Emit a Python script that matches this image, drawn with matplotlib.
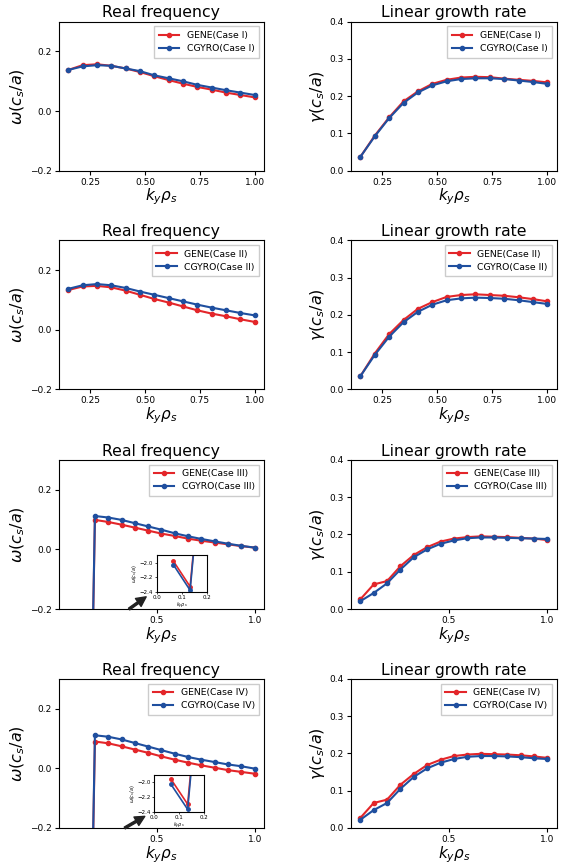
import numpy as np
import matplotlib
matplotlib.use("Agg")
import matplotlib.pyplot as plt

# wavenumbers
ky_a = np.linspace(0.15, 1.0, 14)   # cases I and II
ky_b = np.linspace(0.05, 1.0, 15)   # cases III and IV
ky_inset = [1/15, 2/15, 3/15]

# case I
freq_gene_1 = [0.138, 0.154, 0.157, 0.152, 0.143, 0.131, 0.117, 0.104, 0.092, 0.081, 0.072, 0.062, 0.054, 0.046]
freq_cgyro_1 = [0.138, 0.150, 0.154, 0.152, 0.143, 0.134, 0.120, 0.110, 0.100, 0.088, 0.079, 0.070, 0.062, 0.054]
grow_gene_1 = [0.037, 0.094, 0.143, 0.186, 0.213, 0.233, 0.244, 0.250, 0.252, 0.251, 0.247, 0.244, 0.241, 0.237]
grow_cgyro_1 = [0.037, 0.092, 0.141, 0.182, 0.210, 0.229, 0.240, 0.246, 0.248, 0.248, 0.246, 0.242, 0.238, 0.233]

# case II
freq_gene_2 = [0.133, 0.145, 0.147, 0.142, 0.131, 0.117, 0.103, 0.091, 0.078, 0.065, 0.054, 0.045, 0.035, 0.026]
freq_cgyro_2 = [0.137, 0.149, 0.153, 0.149, 0.140, 0.128, 0.117, 0.106, 0.095, 0.084, 0.074, 0.065, 0.056, 0.048]
grow_gene_2 = [0.035, 0.096, 0.148, 0.186, 0.216, 0.234, 0.248, 0.253, 0.255, 0.253, 0.251, 0.247, 0.242, 0.236]
grow_cgyro_2 = [0.035, 0.092, 0.141, 0.180, 0.208, 0.227, 0.239, 0.244, 0.246, 0.245, 0.243, 0.239, 0.234, 0.229]

# case III
freq_gene_3 = [-1.98, -2.33, 0.099, 0.092, 0.083, 0.073, 0.063, 0.053, 0.045, 0.036, 0.029, 0.023, 0.017, 0.011, 0.006]
freq_cgyro_3 = [-2.03, -2.38, 0.112, 0.107, 0.099, 0.088, 0.077, 0.066, 0.054, 0.044, 0.035, 0.027, 0.019, 0.012, 0.006]
grow_gene_3 = [0.026, 0.066, 0.075, 0.115, 0.145, 0.166, 0.181, 0.189, 0.193, 0.195, 0.194, 0.193, 0.191, 0.189, 0.185]
grow_cgyro_3 = [0.021, 0.043, 0.069, 0.106, 0.139, 0.160, 0.175, 0.184, 0.190, 0.192, 0.192, 0.191, 0.190, 0.189, 0.188]

# case IV
freq_gene_4 = [-1.96, -2.30, 0.090, 0.084, 0.074, 0.063, 0.052, 0.040, 0.029, 0.019, 0.010, 0.002, -0.006, -0.012, -0.018]
freq_cgyro_4 = [-2.03, -2.37, 0.111, 0.106, 0.097, 0.085, 0.073, 0.061, 0.049, 0.038, 0.029, 0.021, 0.013, 0.007, -0.001]
grow_gene_4 = [0.027, 0.067, 0.076, 0.116, 0.145, 0.169, 0.183, 0.193, 0.197, 0.199, 0.198, 0.197, 0.195, 0.192, 0.188]
grow_cgyro_4 = [0.022, 0.048, 0.067, 0.105, 0.137, 0.160, 0.175, 0.185, 0.191, 0.193, 0.193, 0.192, 0.190, 0.187, 0.185]

case_names = ["I", "II", "III", "IV"]

red = "#e3262a"
blue = "#1f4f9f"

fig = plt.figure(figsize=(5.67, 8.63), dpi=100)

rows = [
    (ky_a, freq_gene_1, freq_cgyro_1, grow_gene_1, grow_cgyro_1),
    (ky_a, freq_gene_2, freq_cgyro_2, grow_gene_2, grow_cgyro_2),
    (ky_b, freq_gene_3, freq_cgyro_3, grow_gene_3, grow_cgyro_3),
    (ky_b, freq_gene_4, freq_cgyro_4, grow_gene_4, grow_cgyro_4),
]

# bottom edge of each row of axes (figure fraction)
bottoms = [0.8022, 0.5489, 0.2943, 0.0406]
h = 0.1727

# inset boxes and arrows for cases III and IV (axes fraction / data coords)
inset_box = {2: [0.477, 0.116, 0.244, 0.244], 3: [0.465, 0.110, 0.244, 0.247]}
arrows = {2: ((0.36, -0.2), (0.447, -0.159)), 3: ((0.338, -0.2), (0.44, -0.161))}

def style(ax):
    ax.tick_params(labelsize=6.5, width=0.8, length=3, pad=2)
    for s in ax.spines.values():
        s.set_linewidth(0.8)

for i, (ky, fg, fc, gg, gc) in enumerate(rows):
    name = case_names[i]

    # real frequency
    ax = fig.add_axes([0.104, bottoms[i], 0.3616, h])
    ax.plot(ky, fg, "-o", color=red, lw=1.5, ms=3, label="GENE(Case " + name + ")")
    ax.plot(ky, fc, "-o", color=blue, lw=1.5, ms=3, label="CGYRO(Case " + name + ")")
    ax.set_ylim(-0.2, 0.3)
    ax.set_yticks([-0.2, 0.0, 0.2])
    if i < 2:
        ax.set_xticks([0.25, 0.5, 0.75, 1.0])
    else:
        ax.set_xticks([0.5, 1.0])
    ax.set_title("Real frequency", fontsize=11.3, pad=3)
    ax.set_xlabel(r"$k_y\rho_s$", fontsize=11, labelpad=0)
    ax.set_ylabel(r"$\omega(c_s/a)$", fontsize=11.5, labelpad=2)
    ax.legend(loc="upper right", fontsize=6.7, handlelength=2.2, borderpad=0.5,
              labelspacing=0.45, fancybox=False, framealpha=1, edgecolor="#cccccc")
    style(ax)

    if i in inset_box:
        ins = ax.inset_axes(inset_box[i])
        ins.plot(ky_inset, fg[:3], "-o", color=red, lw=1.2, ms=2.5)
        ins.plot(ky_inset, fc[:3], "-o", color=blue, lw=1.2, ms=2.5)
        ins.set_xlim(0, 0.2)
        ins.set_ylim(-2.4, -1.9)
        ins.set_xticks([0.0, 0.1, 0.2])
        ins.set_yticks([-2.4, -2.2, -2.0])
        ins.tick_params(labelsize=4, length=1.5, width=0.5, pad=1)
        ins.set_xlabel(r"$k_y\rho_s$", fontsize=3.5, labelpad=0.5)
        ins.set_ylabel(r"$\omega(c_s/a)$", fontsize=3.5, labelpad=0.5)
        for s in ins.spines.values():
            s.set_linewidth(0.8)
        tail, head = arrows[i]
        ax.annotate("", xy=head, xytext=tail,
                    arrowprops=dict(facecolor="#222222", edgecolor="#222222",
                                    width=1.5, headwidth=7, headlength=7),
                    annotation_clip=False)

    # growth rate
    ax2 = fig.add_axes([0.619, bottoms[i], 0.363, h])
    ax2.plot(ky, gg, "-o", color=red, lw=1.5, ms=3, label="GENE(Case " + name + ")")
    ax2.plot(ky, gc, "-o", color=blue, lw=1.5, ms=3, label="CGYRO(Case " + name + ")")
    ax2.set_ylim(0, 0.4)
    ax2.set_yticks([0.0, 0.1, 0.2, 0.3, 0.4])
    if i < 2:
        ax2.set_xticks([0.25, 0.5, 0.75, 1.0])
    else:
        ax2.set_xticks([0.5, 1.0])
    ax2.set_title("Linear growth rate", fontsize=11.3, pad=3)
    ax2.set_xlabel(r"$k_y\rho_s$", fontsize=11, labelpad=0)
    ax2.set_ylabel(r"$\gamma(c_s/a)$", fontsize=11.5, labelpad=2)
    ax2.legend(loc="upper right", fontsize=6.7, handlelength=2.2, borderpad=0.5,
               labelspacing=0.45, fancybox=False, framealpha=1, edgecolor="#cccccc")
    style(ax2)

fig.savefig("out.png", dpi=100)
